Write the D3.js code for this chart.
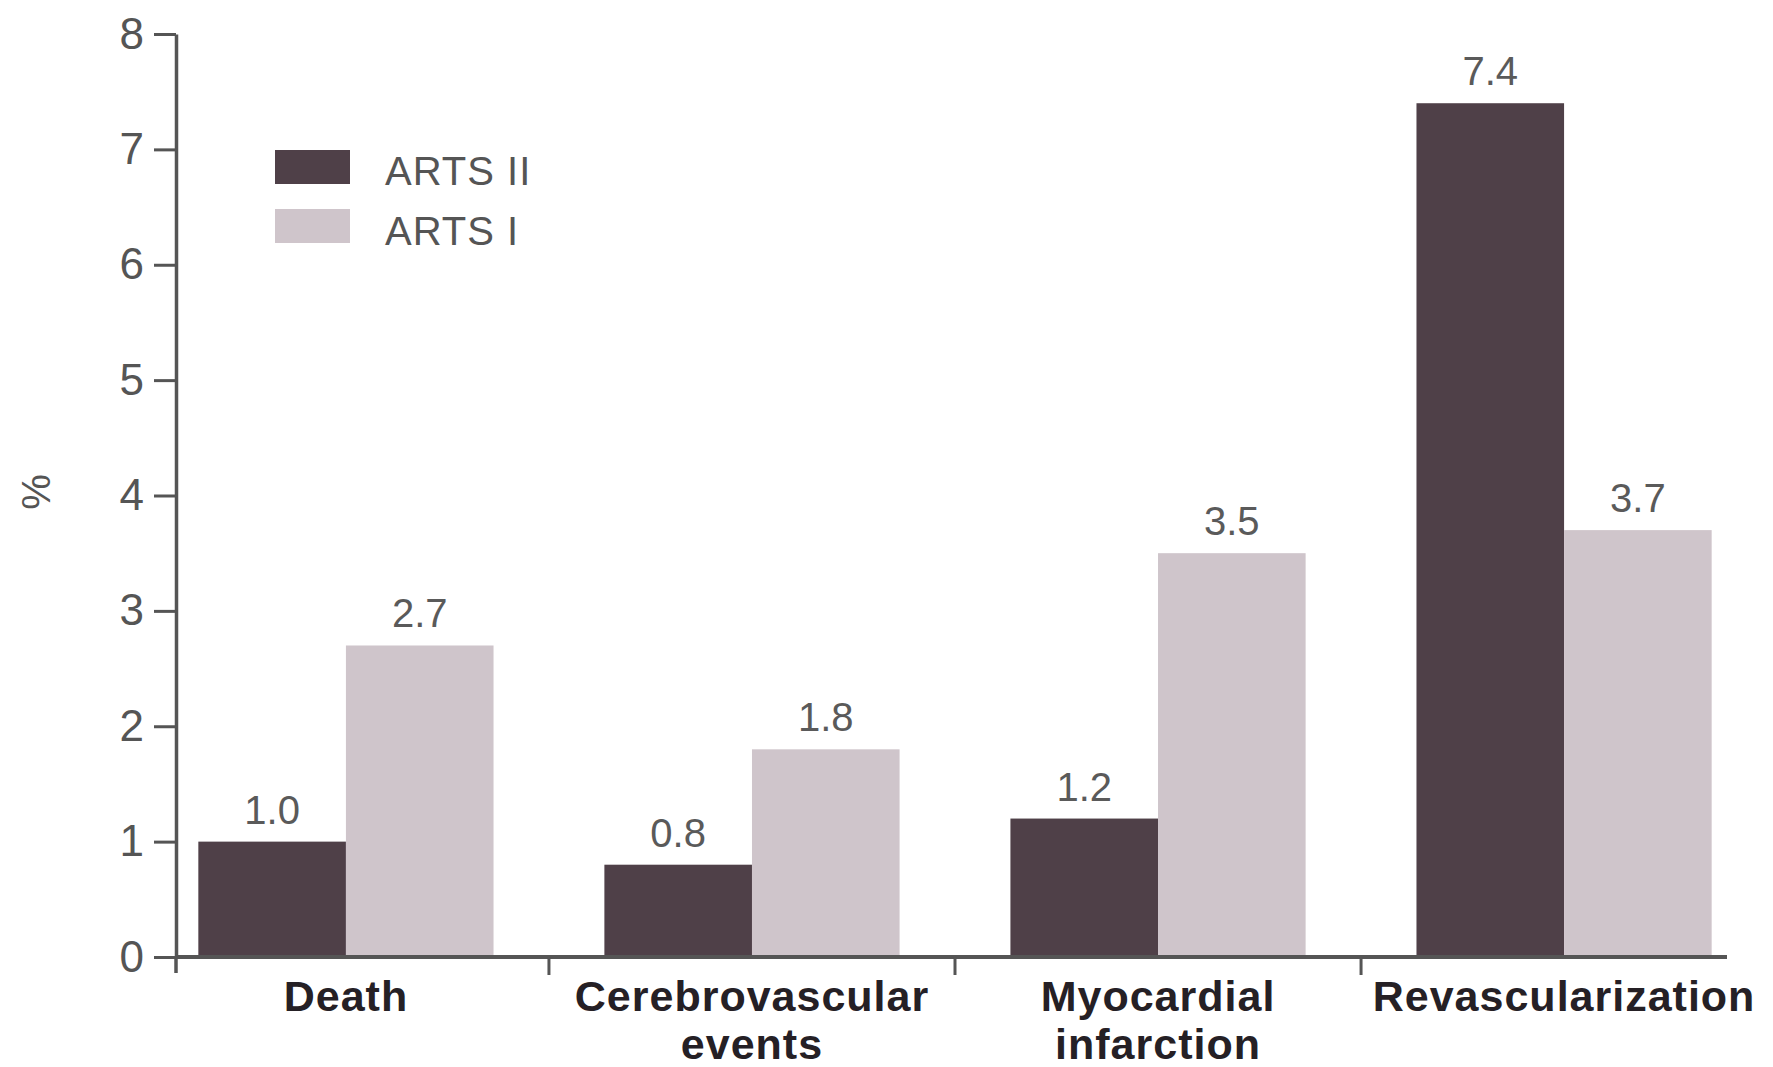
<!DOCTYPE html>
<html>
<head>
<meta charset="utf-8">
<script src="https://cdn.jsdelivr.net/npm/d3@7"></script>
<style>
  html, body { margin: 0; padding: 0; background: #fff; }
  svg { display: block; font-family: "Liberation Sans", Arial, sans-serif; }
</style>
</head>
<body>
<div id="chart-container"></div>
<script>
// data
const categories = ["Death", "Cerebrovascular events", "Myocardial infarction", "Revascularization"];
const categoryLines = [["Death"], ["Cerebrovascular", "events"], ["Myocardial", "infarction"], ["Revascularization"]];
const seriesNames = ["ARTS II", "ARTS I"];
const artsII = [1.0, 0.8, 1.2, 7.4];
const artsI = [2.7, 1.8, 3.5, 3.7];
const yTicks = [0, 1, 2, 3, 4, 5, 6, 7, 8];

const width = 1773, height = 1067;
const axisX = 176, baseY = 957, topY = 34;

const svg = d3.select("#chart-container")
  .append("svg")
  .attr("width", width)
  .attr("height", height);

const x = d3.scaleBand()
  .domain(categories)
  .range([axisX, 1734])
  .paddingInner(0.273)
  .paddingOuter(0.055);

const x1 = d3.scaleBand()
  .domain(seriesNames)
  .range([0, x.bandwidth()]);

const y = d3.scaleLinear()
  .domain([0, 8])
  .range([baseY, topY]);

const color = d3.scaleOrdinal()
  .domain(seriesNames)
  .range(["#4f4048", "#cfc5cb"]);

const rows = categories.map((c, i) => ({cat: c, values: [artsII[i], artsI[i]]}));

// bars
const groups = svg.append("g")
  .selectAll("g")
  .data(rows)
  .join("g")
    .attr("transform", d => `translate(${x(d.cat)},0)`);

groups.selectAll("rect")
  .data(d => d.values.map((v, j) => ({key: seriesNames[j], v})))
  .join("rect")
    .attr("x", d => x1(d.key))
    .attr("y", d => y(d.v))
    .attr("width", x1.bandwidth())
    .attr("height", d => baseY - y(d.v))
    .attr("fill", d => color(d.key));

// value labels
groups.selectAll("text")
  .data(d => d.values.map((v, j) => ({key: seriesNames[j], v})))
  .join("text")
    .attr("x", d => x1(d.key) + x1.bandwidth() / 2)
    .attr("y", d => y(d.v) - 18)
    .attr("text-anchor", "middle")
    .style("font-size", "40px")
    .style("fill", "#5a5a5a")
    .text(d => d3.format(".1f")(d.v));

// y axis
const yAxis = d3.axisLeft(y)
  .tickValues(yTicks)
  .tickSize(22)
  .tickSizeOuter(0)
  .tickPadding(10)
  .tickFormat(d3.format("d"));

const gy = svg.append("g")
  .attr("transform", `translate(${axisX},0)`)
  .call(yAxis);
gy.select(".domain").attr("stroke", "#555").attr("stroke-width", 3.5);
gy.selectAll(".tick line").attr("stroke", "#555").attr("stroke-width", 3);
gy.selectAll(".tick text")
  .style("font-size", "44px")
  .style("fill", "#555")
  .style("font-family", "'Liberation Sans', Arial, sans-serif");

// axis stub below zero and zero tick crossing
gy.append("line")
  .attr("x1", 0).attr("x2", 0)
  .attr("y1", baseY).attr("y2", baseY + 16)
  .attr("stroke", "#555").attr("stroke-width", 3.5);
gy.append("line")
  .attr("x1", 0).attr("x2", 20)
  .attr("y1", y(0)).attr("y2", y(0))
  .attr("stroke", "#555").attr("stroke-width", 3);

// x axis baseline
svg.append("line")
  .attr("x1", axisX).attr("x2", 1727)
  .attr("y1", baseY).attr("y2", baseY)
  .attr("stroke", "#555").attr("stroke-width", 4);

// separators between groups
const gap = x.step() * x.paddingInner();
svg.append("g")
  .selectAll("line")
  .data(categories.slice(1))
  .join("line")
    .attr("x1", d => x(d) - gap / 2)
    .attr("x2", d => x(d) - gap / 2)
    .attr("y1", baseY)
    .attr("y2", baseY + 18)
    .attr("stroke", "#555")
    .attr("stroke-width", 3);

// category labels
const catText = svg.append("g")
  .selectAll("text")
  .data(categories)
  .join("text")
    .attr("x", d => x(d) + x.bandwidth() / 2)
    .attr("y", 1011)
    .attr("text-anchor", "middle")
    .style("font-size", "43px")
    .style("font-weight", "bold")
    .style("letter-spacing", "1px")
    .style("fill", "#252025");

catText.selectAll("tspan")
  .data((d, i) => categoryLines[i])
  .join("tspan")
    .attr("x", function() { return d3.select(this.parentNode).attr("x"); })
    .attr("dy", (d, i) => i === 0 ? 0 : 48)
    .text(d => d);

// y axis title
svg.append("text")
  .attr("transform", "translate(50,492) rotate(-90)")
  .attr("text-anchor", "middle")
  .style("font-size", "40px")
  .style("fill", "#555")
  .text("%");

// legend
const legend = svg.append("g").attr("transform", "translate(275,150)");
seriesNames.forEach((key, i) => {
  legend.append("rect")
    .attr("x", 0)
    .attr("y", i * 59)
    .attr("width", 75)
    .attr("height", 34)
    .attr("fill", color(key));
  legend.append("text")
    .attr("x", 110)
    .attr("y", i * 60 + 35)
    .style("font-size", "40px")
    .style("fill", "#555")
    .style("letter-spacing", "1px")
    .text(key);
});
</script>
</body>
</html>
